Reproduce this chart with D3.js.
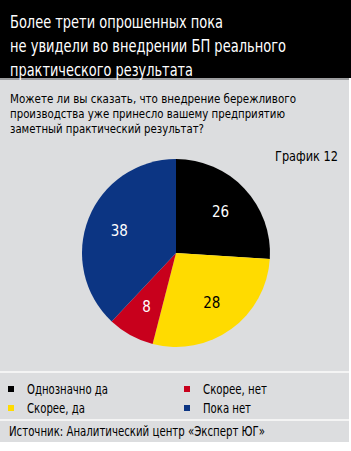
<!DOCTYPE html>
<html>
<head>
<meta charset="utf-8" />
<title>Бережливое производство</title>
<script src="https://cdn.jsdelivr.net/npm/d3@7"></script>
<style>
	body { margin: 0; background: #fff; }
	svg { display: block; }
	text { font-family: "Liberation Sans Narrow", "DejaVu Sans Condensed", "Roboto", sans-serif; font-stretch: condensed; }
</style>
</head>
<body>
<svg id="chart" width="351" height="451"></svg>
<script>
// данные графика
const titleLines = ['Более трети опрошенных пока', 'не увидели во внедрении БП реального', 'практического результата'];
const titleWidths = [213, 276, 183];
const questionLines = ['Можете ли вы сказать, что внедрение бережливого', 'производства уже принесло вашему предприятию', 'заметный практический результат?'];
const questionWidths = [286, 275, 194];
const categories = ['Однозначно да', 'Скорее, да', 'Скорее, нет', 'Пока нет'];
const values = [26, 28, 8, 38];
const colors = ['#000000', '#ffdb00', '#c8001c', '#0c3583'];
const labelColors = ['#ffffff', '#000000', '#ffffff', '#ffffff'];
const legendWidths = [81, 58, 64, 48];
const chartNo = 'График 12';
const source = 'Источник: Аналитический центр «Эксперт ЮГ»';

const svg = d3.select('#chart');

// фон
svg.append('rect').attr('x', 0).attr('y', 0).attr('width', 349).attr('height', 442).attr('fill', '#dcdddf');
svg.append('rect').attr('x', 0).attr('y', 0).attr('width', 351).attr('height', 78).attr('fill', '#000');
svg.append('rect').attr('x', 0).attr('y', 78).attr('width', 349).attr('height', 2).attr('fill', '#9c9d9f');
svg.append('rect').attr('x', 0).attr('y', 371).attr('width', 349).attr('height', 2).attr('fill', '#f4f4f4');
svg.append('rect').attr('x', 0).attr('y', 419).attr('width', 349).attr('height', 2).attr('fill', '#f4f4f4');

// заголовок
svg.selectAll('.title').data(titleLines).enter().append('text')
	.attr('class', 'title')
	.attr('x', 10)
	.attr('y', (d, i) => 28 + i * 24)
	.attr('fill', '#fff')
	.style('font-size', '17px')
	.attr('textLength', (d, i) => titleWidths[i])
	.attr('lengthAdjust', 'spacingAndGlyphs')
	.text(d => d);

// вопрос
svg.selectAll('.question').data(questionLines).enter().append('text')
	.attr('class', 'question')
	.attr('x', 10)
	.attr('y', (d, i) => 103 + i * 15)
	.attr('fill', '#000')
	.style('font-size', '13px')
	.attr('textLength', (d, i) => questionWidths[i])
	.attr('lengthAdjust', 'spacingAndGlyphs')
	.text(d => d);

svg.append('text')
	.attr('x', 338).attr('y', 161)
	.attr('text-anchor', 'end')
	.style('font-size', '14px')
	.attr('textLength', 63)
	.attr('lengthAdjust', 'spacingAndGlyphs')
	.text(chartNo);

// круговая диаграмма
const radius = 94;
const pie = d3.pie().sort(null).value(d => d);
const arc = d3.arc().innerRadius(0).outerRadius(radius);
const labelArc = d3.arc().innerRadius(61).outerRadius(61);

const g = svg.append('g').attr('transform', 'translate(176,253)');
const slices = g.selectAll('.slice').data(pie(values)).enter().append('g').attr('class', 'slice');

slices.append('path')
	.attr('d', arc)
	.attr('fill', (d, i) => colors[i]);

slices.append('text')
	.attr('transform', d => 'translate(' + labelArc.centroid(d) + ')')
	.attr('text-anchor', 'middle')
	.attr('dy', '0.36em')
	.attr('fill', (d, i) => labelColors[i])
	.style('font-size', '15px')
	.text(d => d.data);

// легенда
const colX = d3.scaleOrdinal().domain([0, 1]).range([8, 184]);
const rowY = d3.scaleOrdinal().domain([0, 1]).range([389, 408]);

const legend = svg.selectAll('.legend').data(categories).enter().append('g')
	.attr('class', 'legend')
	.attr('transform', (d, i) => 'translate(' + colX(Math.floor(i / 2)) + ',' + rowY(i % 2) + ')');

legend.append('rect')
	.attr('x', 0).attr('y', -3)
	.attr('width', 6).attr('height', 6)
	.attr('fill', (d, i) => colors[i]);

legend.append('text')
	.attr('x', 19)
	.attr('dy', '0.36em')
	.style('font-size', '14px')
	.attr('textLength', (d, i) => legendWidths[i])
	.attr('lengthAdjust', 'spacingAndGlyphs')
	.text(d => d);

// источник
svg.append('text')
	.attr('x', 9).attr('y', 436)
	.style('font-size', '14px')
	.attr('textLength', 256)
	.attr('lengthAdjust', 'spacingAndGlyphs')
	.text(source);
</script>
</body>
</html>
